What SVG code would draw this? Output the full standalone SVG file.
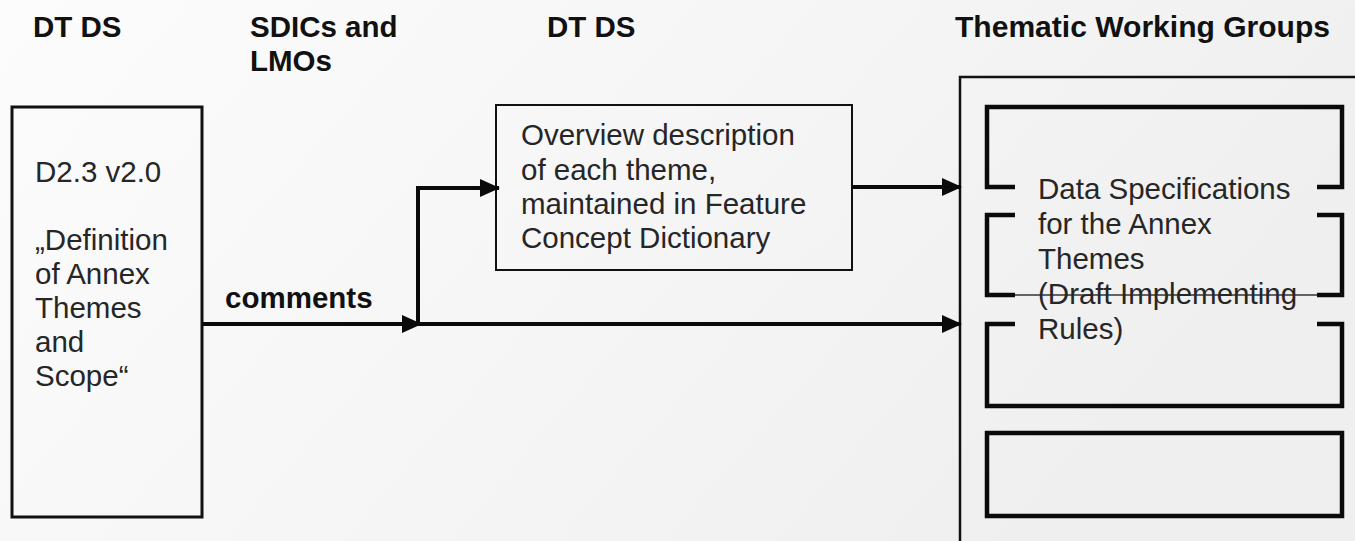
<svg xmlns="http://www.w3.org/2000/svg" width="1355" height="541" viewBox="0 0 1355 541">
  <style>
    .head { font-family: "Liberation Sans", Arial, sans-serif; font-size: 29.5px; font-weight: bold; fill: #111; }
    .body { font-family: "Liberation Sans", Arial, sans-serif; font-size: 29.5px; fill: #262626; }
    .box { fill: none; stroke: #111; }
    .thick { fill: none; stroke: #0a0a0a; stroke-width: 4.5; }
    .wire { fill: none; stroke: #0a0a0a; stroke-width: 4; marker-end: url(#arrow); }
  </style>
  <defs>
    <linearGradient id="bg" x1="0" y1="0" x2="1" y2="0.35">
      <stop offset="0" stop-color="#fcfcfc"/>
      <stop offset="0.5" stop-color="#f6f6f6"/>
      <stop offset="1" stop-color="#efefef"/>
    </linearGradient>
    <marker id="arrow" markerUnits="userSpaceOnUse" markerWidth="20" markerHeight="20" viewBox="0 0 20 20" refX="19" refY="10" orient="auto">
      <path d="M0,1 L20,10 L0,19 Z" fill="#0a0a0a"/>
    </marker>
  </defs>

  <rect x="0" y="0" width="1355" height="541" fill="url(#bg)"/>

  <!-- column headings -->
  <g id="headings">
    <text class="head" x="33" y="37">DT DS</text>
    <text class="head" x="250" y="37">SDICs and</text>
    <text class="head" x="250" y="71">LMOs</text>
    <text class="head" x="547" y="37">DT DS</text>
    <text class="head" x="955" y="37" textLength="375" lengthAdjust="spacingAndGlyphs">Thematic Working Groups</text>
  </g>

  <!-- D2.3 document -->
  <g id="node-d23">
    <rect class="box" x="12" y="107" width="190" height="410" stroke-width="3"/>
    <text class="body" x="35" y="182">D2.3 v2.0</text>
    <text class="body" x="35" y="250">„Definition</text>
    <text class="body" x="35" y="284">of Annex</text>
    <text class="body" x="35" y="318">Themes</text>
    <text class="body" x="35" y="352">and</text>
    <text class="body" x="35" y="386">Scope“</text>
  </g>

  <!-- feature concept dictionary -->
  <g id="node-overview">
    <rect class="box" x="496" y="105" width="356" height="165" stroke-width="2"/>
    <text class="body" x="521" y="145">Overview description</text>
    <text class="body" x="521" y="180">of each theme,</text>
    <text class="body" x="521" y="214">maintained in Feature</text>
    <text class="body" x="521" y="248">Concept Dictionary</text>
  </g>

  <!-- thematic working groups container -->
  <g id="node-twg">
    <rect class="box" x="960" y="77" width="420" height="500" stroke-width="2.5"/>
    <path class="thick" d="M1015,187 H987 V107 H1342 V187 H1317"/>
    <path class="thick" d="M1015,215 H987 V295 H1015 M1317,215 H1342 V295 H1317"/>
    <path d="M1015,295 H1317" fill="none" stroke="#333" stroke-width="1.5"/>
    <path class="thick" d="M1015,324 H987 V406 H1342 V324 H1317"/>
    <rect class="thick" x="987" y="433" width="355" height="83"/>
    <text class="body" x="1038" y="199">Data Specifications</text>
    <text class="body" x="1038" y="234">for the Annex</text>
    <text class="body" x="1038" y="269">Themes</text>
    <text class="body" x="1038" y="304">(Draft Implementing</text>
    <text class="body" x="1038" y="339">Rules)</text>
  </g>

  <!-- connectors -->
  <g id="connectors">
    <path class="wire" d="M202,324 H421"/>
    <path class="wire" d="M418,324 V188 H499"/>
    <path class="wire" d="M418,324 H961"/>
    <path class="wire" d="M852,187 H961"/>
    <text class="head" x="225" y="308">comments</text>
  </g>
</svg>
